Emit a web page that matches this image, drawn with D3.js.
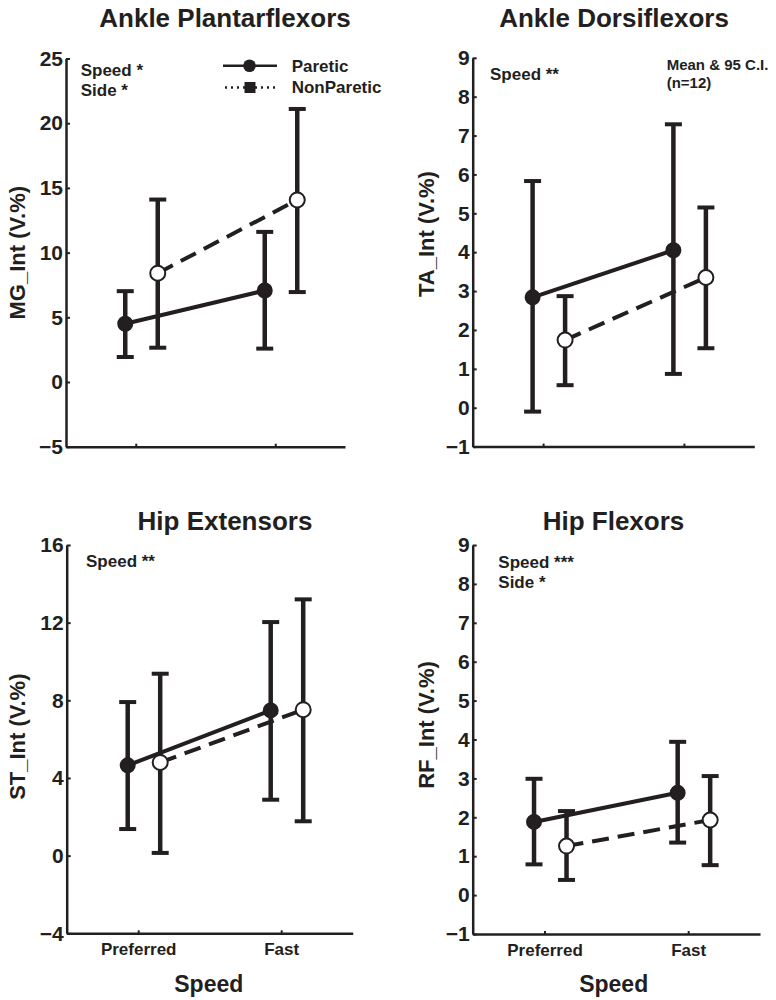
<!DOCTYPE html>
<html>
<head>
<meta charset="utf-8">
<script src="https://cdn.jsdelivr.net/npm/d3@7"></script>
<style>
  html, body { margin: 0; padding: 0; background: #fff; }
  svg { display: block; }
  text { font-family: "Liberation Sans", Arial, Helvetica, sans-serif; font-weight: bold; fill: #231f20; }
</style>
</head>
<body>
<svg id="chart" width="776" height="1000"></svg>
<script>
// Walking speed conditions (x categories)
const speeds = ["Preferred", "Fast"];

// One panel per muscle group
const muscles = ["Ankle Plantarflexors", "Ankle Dorsiflexors", "Hip Extensors", "Hip Flexors"];
const yLabels = ["MG_Int (V.%)", "TA_Int (V.%)", "ST_Int (V.%)", "RF_Int (V.%)"];
const yTicks = [
  [-5, 0, 5, 10, 15, 20, 25],
  [-1, 0, 1, 2, 3, 4, 5, 6, 7, 8, 9],
  [-4, 0, 4, 8, 12, 16],
  [-1, 0, 1, 2, 3, 4, 5, 6, 7, 8, 9]
];
const statNotes = [
  ["Speed *", "Side *"],
  ["Speed **"],
  ["Speed **"],
  ["Speed ***", "Side *"]
];

// Paretic side: mean and 95% confidence limits, [Preferred, Fast]
const pareticMean = [[4.5, 7.07], [2.84, 4.05], [4.65, 7.48], [1.88, 2.63]];
const pareticLow  = [[1.93, 2.58], [-0.1, 0.87], [1.37, 2.88], [0.79, 1.35]];
const pareticHigh = [[7.02, 11.6], [5.83, 7.29], [7.91, 12.03], [2.99, 3.94]];

// Non-paretic side: mean and 95% confidence limits, [Preferred, Fast]
const nonPareticMean = [[8.41, 14.07], [1.74, 3.35], [4.8, 7.52], [1.26, 1.93]];
const nonPareticLow  = [[2.65, 6.95], [0.58, 1.53], [0.14, 1.77], [0.39, 0.77]];
const nonPareticHigh = [[14.1, 21.1], [2.87, 5.15], [9.37, 13.2], [2.16, 3.06]];

const legendLabels = ["Paretic", "NonParetic"];
const sampleNote = ["Mean & 95 C.I.", "(n=12)"];
const xTitle = "Speed";

// ---- layout ----
const INK = "#231f20";
const frames = [
  { x0: 66,    x1: 345,   yTop: 58.5, yBot: 446.7, titleX: 225,   titleY: 27,  labX: 24.5,  labY: 252.7, noteX: 80.7,  noteY: 76,    xLabels: false },
  { x0: 472.7, x1: 754.3, yTop: 57.8, yBot: 446.6, titleX: 614,   titleY: 27,  labX: 433.5, labY: 234,   noteX: 490,   noteY: 80,    xLabels: false },
  { x0: 66.7,  x1: 352.7, yTop: 545,  yBot: 933.3, titleX: 225,   titleY: 530, labX: 25,    labY: 736.7, noteX: 86,    noteY: 567.3, xLabels: true, speedX: 208.8 },
  { x0: 472.7, x1: 760,   yTop: 545,  yBot: 934,   titleX: 613.5, titleY: 530, labX: 433.5, labY: 725,   noteX: 498.3, noteY: 567.7, xLabels: true, speedX: 613.7 }
];
const offP = -10.5, offN = 22;   // side-by-side offsets of the two sides
const capHalf = 8.5;

const svg = d3.select("#chart");

frames.forEach((f, i) => {
  const g = svg.append("g");
  const ticks = yTicks[i];
  const y = d3.scaleLinear().domain([ticks[0], ticks[ticks.length - 1]]).range([f.yBot, f.yTop]);
  const x = d3.scalePoint().domain(speeds).range([f.x0, f.x1]).padding(0.5);

  // y axis
  const ya = g.append("g").attr("transform", `translate(${f.x0},0)`)
    .call(d3.axisLeft(y).tickValues(ticks).tickSize(-4).tickSizeOuter(0).tickPadding(3));
  ya.select(".domain").attr("stroke", INK).attr("stroke-width", 2.5);
  ya.selectAll(".tick line").attr("stroke", INK).attr("stroke-width", 2);
  ya.selectAll(".tick text").attr("font-size", 21).attr("font-family", null).attr("fill", INK);

  // x axis
  const xa = g.append("g").attr("transform", `translate(0,${f.yBot})`)
    .call(d3.axisBottom(x).tickSize(-3).tickSizeOuter(0).tickPadding(10)
      .tickFormat(f.xLabels ? (d => d) : () => ""));
  xa.select(".domain").attr("stroke", INK).attr("stroke-width", 2.5);
  xa.selectAll(".tick line").attr("stroke", INK).attr("stroke-width", 2);
  xa.selectAll(".tick text").attr("font-size", 17).attr("font-family", null).attr("fill", INK);

  // title
  g.append("text").attr("x", f.titleX).attr("y", f.titleY)
    .attr("text-anchor", "middle").attr("font-size", 26).text(muscles[i]);

  // y label
  g.append("text").attr("transform", `translate(${f.labX},${f.labY}) rotate(-90)`)
    .attr("text-anchor", "middle").attr("font-size", 22).text(yLabels[i]);

  // x label
  if (f.xLabels) {
    g.append("text").attr("x", f.speedX).attr("y", 991.7)
      .attr("text-anchor", "middle").attr("font-size", 23).text(xTitle);
  }

  // significance notes
  statNotes[i].forEach((s, k) => {
    g.append("text").attr("x", f.noteX).attr("y", f.noteY + k * 20)
      .attr("font-size", 17).text(s);
  });

  const series = [
    { mean: pareticMean[i], lo: pareticLow[i], hi: pareticHigh[i], off: offP, dash: null, fill: INK, r: 7 },
    { mean: nonPareticMean[i], lo: nonPareticLow[i], hi: nonPareticHigh[i], off: offN, dash: "17,9", fill: "#fff", r: 7.5 }
  ];
  const pts = s => speeds.map((sp, j) => ({ sp, m: s.mean[j], lo: s.lo[j], hi: s.hi[j], x: x(sp) + s.off }));

  // error bars
  series.forEach(s => {
    const eb = g.append("g").attr("stroke", INK).attr("fill", "none");
    pts(s).forEach(p => {
      eb.append("line").attr("x1", p.x).attr("x2", p.x).attr("y1", y(p.lo)).attr("y2", y(p.hi)).attr("stroke-width", 4.5);
      eb.append("line").attr("x1", p.x - capHalf).attr("x2", p.x + capHalf).attr("y1", y(p.lo)).attr("y2", y(p.lo)).attr("stroke-width", 4);
      eb.append("line").attr("x1", p.x - capHalf).attr("x2", p.x + capHalf).attr("y1", y(p.hi)).attr("y2", y(p.hi)).attr("stroke-width", 4);
    });
  });

  // connecting lines
  const line = d3.line().x(p => p.x).y(p => y(p.m));
  series.forEach(s => {
    g.append("path").datum(pts(s)).attr("d", line)
      .attr("fill", "none").attr("stroke", INK).attr("stroke-width", 4)
      .attr("stroke-dasharray", s.dash);
  });

  // markers
  series.forEach(s => {
    g.selectAll(null).data(pts(s)).join("circle")
      .attr("cx", p => p.x).attr("cy", p => y(p.m)).attr("r", s.r)
      .attr("fill", s.fill).attr("stroke", INK).attr("stroke-width", 2);
  });

  // legend (first panel)
  if (i === 0) {
    const lg = g.append("g");
    lg.append("line").attr("x1", 223).attr("x2", 277).attr("y1", 65.7).attr("y2", 65.7)
      .attr("stroke", INK).attr("stroke-width", 2.5);
    lg.append("circle").attr("cx", 249.5).attr("cy", 65.7).attr("r", 6.3).attr("fill", INK);
    lg.append("line").attr("x1", 225).attr("x2", 275).attr("y1", 87.5).attr("y2", 87.5)
      .attr("stroke", INK).attr("stroke-width", 2.5).attr("stroke-dasharray", "2,4");
    lg.append("rect").attr("x", 244.5).attr("y", 82).attr("width", 11).attr("height", 11).attr("fill", INK);
    lg.append("text").attr("x", 291.7).attr("y", 71.7).attr("font-size", 17).text(legendLabels[0]);
    lg.append("text").attr("x", 291.7).attr("y", 92.7).attr("font-size", 17).text(legendLabels[1]);
  }
  // sample note (second panel)
  if (i === 1) {
    sampleNote.forEach((s, k) => {
      g.append("text").attr("x", 666.7).attr("y", 70 + k * 18.3).attr("font-size", 15).text(s);
    });
  }
});
</script>
</body>
</html>
